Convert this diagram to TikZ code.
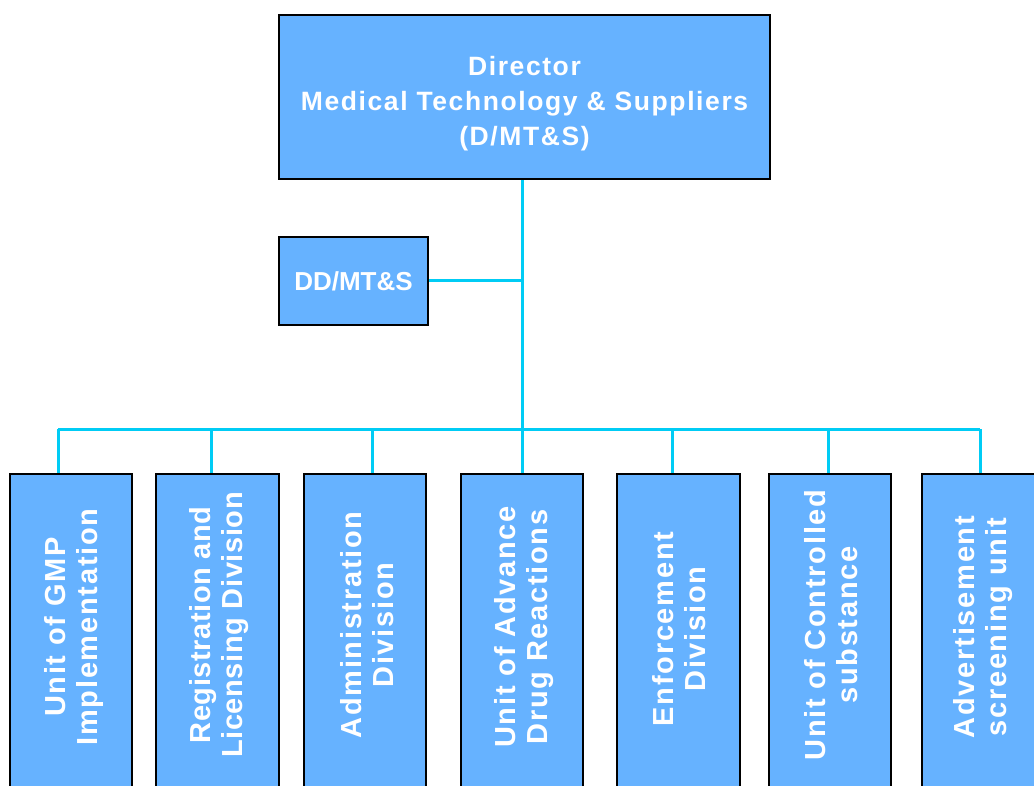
\documentclass[tikz,border=0pt]{standalone}
\usepackage{fontspec}
\newfontfamily\labfont{Liberation Sans}[LetterSpace=6]
\newfontfamily\ddfont{Liberation Sans}
\definecolor{boxblue}{HTML}{66B2FF}
\definecolor{linkcyan}{HTML}{00CCF5}
\tikzset{
  box/.style={draw=black, line width=2.5pt, fill=boxblue, inner sep=0pt},
  toptext/.style={text=white, align=center, font=\labfont\bfseries\fontsize{26.5}{35}\selectfont},
  leaftext/.style={text=white, align=center, rotate=90, inner sep=0pt, font=\labfont\bfseries\fontsize{29}{32}\selectfont},
  link/.style={draw=linkcyan, line width=3pt}
}
\begin{document}
\begin{tikzpicture}[x=1pt,y=-1pt]
\useasboundingbox (0,0) rectangle (1034,786);
\clip (0,0) rectangle (1034,786);
% top box
\node[box, minimum width=491, minimum height=164] (dir) at (524.5,97) {};
\node[toptext] (dirt) at (524.5,104) {Director\\Medical Technology \& Suppliers\\(D/MT\&S)};
% deputy
\node[box, minimum width=149, minimum height=88, text=white, font=\ddfont\bfseries\fontsize{26}{30}\selectfont] (dd) at (353.5,281) {DD/MT\&S};
% leaves
\foreach \n/\l/\r in {1/10/132, 2/156/279, 3/304/426, 4/461/583, 5/617/740, 6/769/891, 7/922/1044}{
  \pgfmathsetmacro{\cx}{(\l+\r)/2}
  \pgfmathsetmacro{\w}{\r-\l}
  \node[box, minimum width=\w, minimum height=340] (u\n) at (\cx,644) {};
}
\node[leaftext] (u1t) at (74,627) {Unit of GMP\\Implementation};
\node[leaftext, font=\labfont\bfseries\fontsize{29}{32}\selectfont\addfontfeature{LetterSpace=2}] (u2t) at (219,625) {Registration and\\Licensing Division};
\node[leaftext] (u3t) at (367,625) {Administration\\Division};
\node[leaftext] (u4t) at (524,627) {Unit of Advance\\Drug Reactions};
\node[leaftext] (u5t) at (679,629) {Enforcement\\Division};
\node[leaftext] (u6t) at (831,625) {Unit of Controlled\\substance};
\node[leaftext] (u7t) at (983,627) {Advertisement\\screening unit};
% bus coordinates
\coordinate (b1) at (58,429);
\coordinate (b2) at (211,429);
\coordinate (b3) at (372,429);
\coordinate (b4) at (522,429);
\coordinate (b5) at (672,429);
\coordinate (b6) at (828,429);
\coordinate (b7) at (980,429);
\coordinate (j) at (dd.east -| b4);
% connectors
\draw[link] (dir.south -| b4) -- (b4 |- u4.north);
\draw[link] (dd.east) -- (j);
\draw[link] (b1) -- (b7);
\foreach \n in {1,2,3,5,6,7}{
  \draw[link] (b\n) -- (b\n |- u\n.north);
}
\end{tikzpicture}
\end{document}
